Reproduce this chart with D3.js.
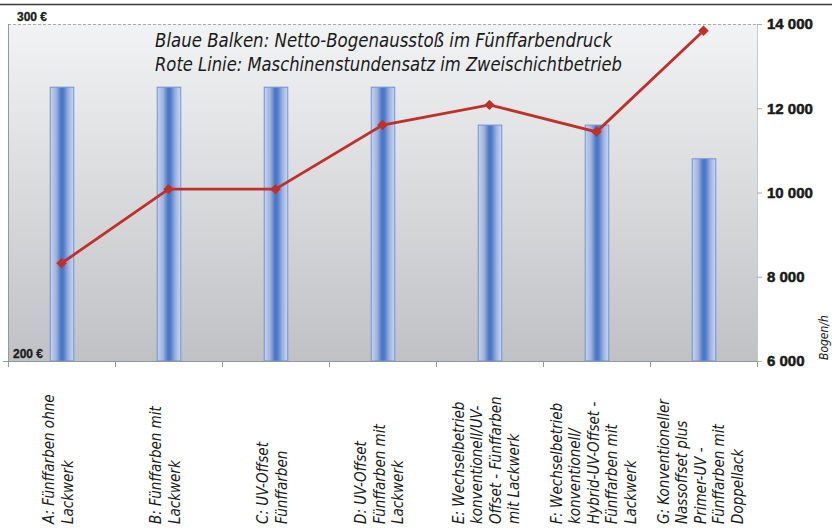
<!DOCTYPE html>
<html>
<head>
<meta charset="utf-8">
<script src="https://cdn.jsdelivr.net/npm/d3@7/dist/d3.min.js"></script>
<style>
  html, body { margin: 0; padding: 0; background: #ffffff; }
  svg { display: block; }
</style>
</head>
<body>
<svg id="chart" width="832" height="528"></svg>
<script>
// Druckverfahren (Kategorien), jeweils zeilenweise umbrochen
const categories = ["A", "B", "C", "D", "E", "F", "G"];
const categoryLines = [
  ["A: Fünffarben ohne", "Lackwerk"],
  ["B: Fünffarben mit", "Lackwerk"],
  ["C: UV-Offset", "Fünffarben"],
  ["D: UV-Offset", "Fünffarben mit", "Lackwerk"],
  ["E: Wechselbetrieb", "konventionell/UV-", "Offset - Fünffarben", "mit Lackwerk"],
  ["F: Wechselbetrieb", "konventionell/", "Hybrid-UV-Offset -", "Fünffarben mit", "Lackwerk"],
  ["G: Konventioneller", "Nassoffset plus", "Primer-UV -", "Fünffarben mit", "Doppellack"]
];
// Netto-Bogenausstoß (Bogen/h) – blaue Balken, rechte Achse
const bogenProStunde = [12500, 12500, 12500, 12500, 11600, 11600, 10800];
// Maschinenstundensatz (€) – rote Linie, linke Achse
const stundensatz = [229, 251, 251, 270, 276, 268, 298];
// Achsenbeschriftungen
const euroTicks = [200, 300];
const bogenTicks = [6000, 8000, 10000, 12000, 14000];
const titleLines = [
  "Blaue Balken: Netto-Bogenausstoß im Fünffarbendruck",
  "Rote Linie: Maschinenstundensatz im Zweischichtbetrieb"
];

const condFont = '"Liberation Sans Narrow", "DejaVu Sans Condensed", "Arial Narrow", sans-serif';
const boldFont = '"Liberation Sans", Arimo, Arial, Helvetica, sans-serif';

const svg = d3.select("#chart");
const plot = { left: 8, right: 757, top: 24, bottom: 361 };

const x = d3.scaleBand().domain(categories).range([plot.left, plot.right]).padding(0);
const yEuro = d3.scaleLinear().domain([200, 300]).range([plot.bottom, plot.top]);
const yBogen = d3.scaleLinear().domain([6000, 14000]).range([plot.bottom, plot.top]);

const defs = svg.append("defs");
const bg = defs.append("linearGradient").attr("id", "bgGrad")
  .attr("x1", 0).attr("y1", 0).attr("x2", 0).attr("y2", 1);
bg.append("stop").attr("offset", "0%").attr("stop-color", "#f2f3f4");
bg.append("stop").attr("offset", "100%").attr("stop-color", "#bfc1c4");

const barGrad = defs.append("linearGradient").attr("id", "barGrad")
  .attr("x1", 0).attr("y1", 0).attr("x2", 1).attr("y2", 0);
[["0%", "#c9d3ee"], ["25%", "#9fb3e0"], ["45%", "#4b78c6"], ["55%", "#4b78c6"], ["78%", "#9fb3e0"], ["100%", "#cdd7f0"]]
  .forEach(([o, c]) => barGrad.append("stop").attr("offset", o).attr("stop-color", c));

// Obere Trennlinie
svg.append("line").attr("x1", 0).attr("x2", 832).attr("y1", 4.5).attr("y2", 4.5)
  .attr("stroke", "#3a3a3a").attr("stroke-width", 1.6);

// Hintergrund der Zeichenfläche
svg.append("rect")
  .attr("x", plot.left).attr("y", plot.top)
  .attr("width", plot.right - plot.left).attr("height", plot.bottom - plot.top)
  .attr("fill", "url(#bgGrad)");

// Gestrichelte Oberkante
svg.append("line").attr("x1", plot.left).attr("x2", plot.right + 5)
  .attr("y1", plot.top + 0.5).attr("y2", plot.top + 0.5)
  .attr("stroke", "#a4aaae").attr("stroke-width", 1).attr("stroke-dasharray", "3,2");

// Rechte Begrenzung
svg.append("line").attr("x1", plot.right + 0.5).attr("x2", plot.right + 0.5)
  .attr("y1", plot.top).attr("y2", plot.bottom)
  .attr("stroke", "#c4c8cb").attr("stroke-width", 1);

// Linke Achse
svg.append("line").attr("x1", plot.left + 0.5).attr("x2", plot.left + 0.5)
  .attr("y1", plot.top).attr("y2", plot.bottom + 6)
  .attr("stroke", "#8e9aa0").attr("stroke-width", 1);

// Balken
const bw = x.bandwidth() * 0.22;
svg.append("g").selectAll("rect").data(bogenProStunde).join("rect")
  .attr("x", (d, i) => x(categories[i]) + x.bandwidth() / 2 - bw / 2 + 0.5)
  .attr("y", d => yBogen(d))
  .attr("width", bw)
  .attr("height", d => plot.bottom - yBogen(d))
  .attr("fill", "url(#barGrad)")
  .attr("stroke", "#6f93d4").attr("stroke-width", 1);

// Untere Achse mit Trennstrichen zwischen den Kategorien
svg.append("line").attr("x1", 3).attr("x2", plot.right + 5)
  .attr("y1", plot.bottom + 0.5).attr("y2", plot.bottom + 0.5)
  .attr("stroke", "#8e9aa0").attr("stroke-width", 1.2);
const boundaries = categories.map(c => x(c)).concat([x.range()[1]]);
svg.append("g").selectAll("line").data(boundaries.slice(1)).join("line")
  .attr("x1", d => Math.round(d) + 0.5).attr("x2", d => Math.round(d) + 0.5)
  .attr("y1", plot.bottom).attr("y2", plot.bottom + 6)
  .attr("stroke", "#8e9aa0").attr("stroke-width", 1);

// Rechte Achse (Bogen/h)
const fmt = d3.formatLocale({ decimal: ",", thousands: " ", grouping: [3], currency: ["", " €"] }).format(",d");
const rAxis = svg.append("g").attr("transform", `translate(${plot.right},0)`)
  .call(d3.axisRight(yBogen).tickValues(bogenTicks).tickFormat(fmt).tickSize(5).tickPadding(5));
rAxis.select(".domain").remove();
rAxis.selectAll(".tick line").attr("stroke", "#a4aaae");
rAxis.selectAll(".tick text")
  .attr("x", 10)
  .style("font-family", boldFont).style("font-weight", "bold")
  .style("font-size", "15px").style("fill", "#1a1a1a")
  .style("stroke", "#1a1a1a").style("stroke-width", "0.5px");

svg.append("text")
  .attr("transform", `translate(828,${plot.bottom - 1}) rotate(-90)`)
  .style("font-family", condFont).style("font-style", "italic")
  .style("font-size", "12px").style("fill", "#1a1a1a")
  .text("Bogen/h");

// Linke Achse (€)
svg.append("g").selectAll("text").data(euroTicks).join("text")
  .attr("x", d => d === 300 ? 17 : 13)
  .attr("y", d => yEuro(d) - 3)
  .style("font-family", boldFont).style("font-weight", "bold")
  .style("font-size", "12px").style("fill", "#1a1a1a")
  .style("stroke", "#1a1a1a").style("stroke-width", "0.3px")
  .text(d => `${d} €`);

// Rote Linie
const line = d3.line().x((d, i) => x(categories[i]) + x.bandwidth() / 2).y(d => yEuro(d));
svg.append("path").datum(stundensatz)
  .attr("d", line).attr("fill", "none")
  .attr("stroke", "#c0302b").attr("stroke-width", 2.8);
svg.append("g").selectAll("path").data(stundensatz).join("path")
  .attr("d", d3.symbol(d3.symbolDiamond2, 70))
  .attr("transform", (d, i) => `translate(${x(categories[i]) + x.bandwidth() / 2},${yEuro(d)})`)
  .attr("fill", "#c0302b");

// Erläuterung
const titleWidths = [457, 467];
svg.append("g").selectAll("text").data(titleLines).join("text")
  .attr("x", 155).attr("y", (d, i) => 47 + i * 24)
  .attr("textLength", (d, i) => titleWidths[i]).attr("lengthAdjust", "spacingAndGlyphs")
  .style("font-family", condFont).style("font-style", "italic")
  .style("font-size", "20px").style("fill", "#1a1a1a")
  .text(d => d);

// Kategoriebeschriftungen (gedreht)
const lineGap = 18.5;
svg.append("g").selectAll("text").data(categoryLines).join("text")
  .attr("transform", (d, i) => `translate(${x(categories[i]) + x.bandwidth() / 2},524) rotate(-90)`)
  .style("font-family", condFont).style("font-style", "italic")
  .style("font-size", "15px").style("fill", "#1a1a1a")
  .selectAll("tspan").data(d => d.map((t, j) => ({ t, j, n: d.length }))).join("tspan")
  .attr("x", 0)
  .attr("y", d => (d.j - (d.n - 1) / 2) * lineGap + 2)
  .text(d => d.t);
</script>
</body>
</html>
